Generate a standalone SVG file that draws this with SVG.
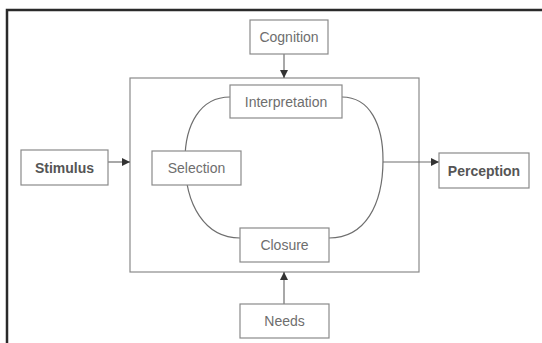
<svg xmlns="http://www.w3.org/2000/svg" width="542" height="343" viewBox="0 0 542 343">
<defs>
<style>
.box{fill:#fff;stroke:#8a8a8a;stroke-width:1.2}
.t{font-family:"Liberation Sans",Arial,sans-serif;font-size:14px;fill:#6e6e6e;text-anchor:middle;dominant-baseline:central}
.b{font-weight:bold;fill:#555}
.ln{fill:none;stroke:#6e6e6e;stroke-width:1.2}
</style>
<marker id="ah" viewBox="0 0 10 10" refX="10" refY="5" markerWidth="8" markerHeight="8" markerUnits="userSpaceOnUse" orient="auto">
<path d="M0,0 L10,5 L0,10 z" fill="#333"/>
</marker>
</defs>
<rect width="542" height="343" fill="#fff"/>
<g id="frame">
<path d="M7,343 V10 H542" fill="none" stroke="#2a2a2a" stroke-width="2.5"/>
</g>
<g id="container">
<rect x="130" y="78" width="289" height="194" fill="none" stroke="#8a8a8a" stroke-width="1.2"/>
</g>
<g id="connectors">
<path class="ln" d="M230,97 C200,97 185,125 185,160 C185,205 205,238 240,238"/>
<path class="ln" d="M342,97 C370,97 383,125 383,160 C383,205 365,238 329,238"/>
<line class="ln" x1="284" y1="54" x2="284" y2="78" marker-end="url(#ah)"/>
<line class="ln" x1="284" y1="304" x2="284" y2="272" marker-end="url(#ah)"/>
<line class="ln" x1="108" y1="162" x2="130" y2="162" marker-end="url(#ah)"/>
<line class="ln" x1="383" y1="162" x2="439" y2="162" marker-end="url(#ah)"/>
</g>
<g id="cognition"><rect class="box" x="250" y="20" width="78" height="34"/><text class="t" x="289" y="37">Cognition</text></g>
<g id="interpretation"><rect class="box" x="230" y="85" width="112" height="33"/><text class="t" x="286" y="101.5">Interpretation</text></g>
<g id="selection"><rect class="box" x="152" y="151" width="89" height="34"/><text class="t" x="196.5" y="168">Selection</text></g>
<g id="stimulus"><rect class="box" x="21" y="150" width="87" height="35"/><text class="t b" x="64.5" y="167.5">Stimulus</text></g>
<g id="perception"><rect class="box" x="439" y="153" width="90" height="35"/><text class="t b" x="484" y="170.5">Perception</text></g>
<g id="closure"><rect class="box" x="240" y="228" width="89" height="34"/><text class="t" x="284.5" y="245">Closure</text></g>
<g id="needs"><rect class="box" x="240" y="304" width="89" height="34"/><text class="t" x="284.5" y="321">Needs</text></g>
</svg>
